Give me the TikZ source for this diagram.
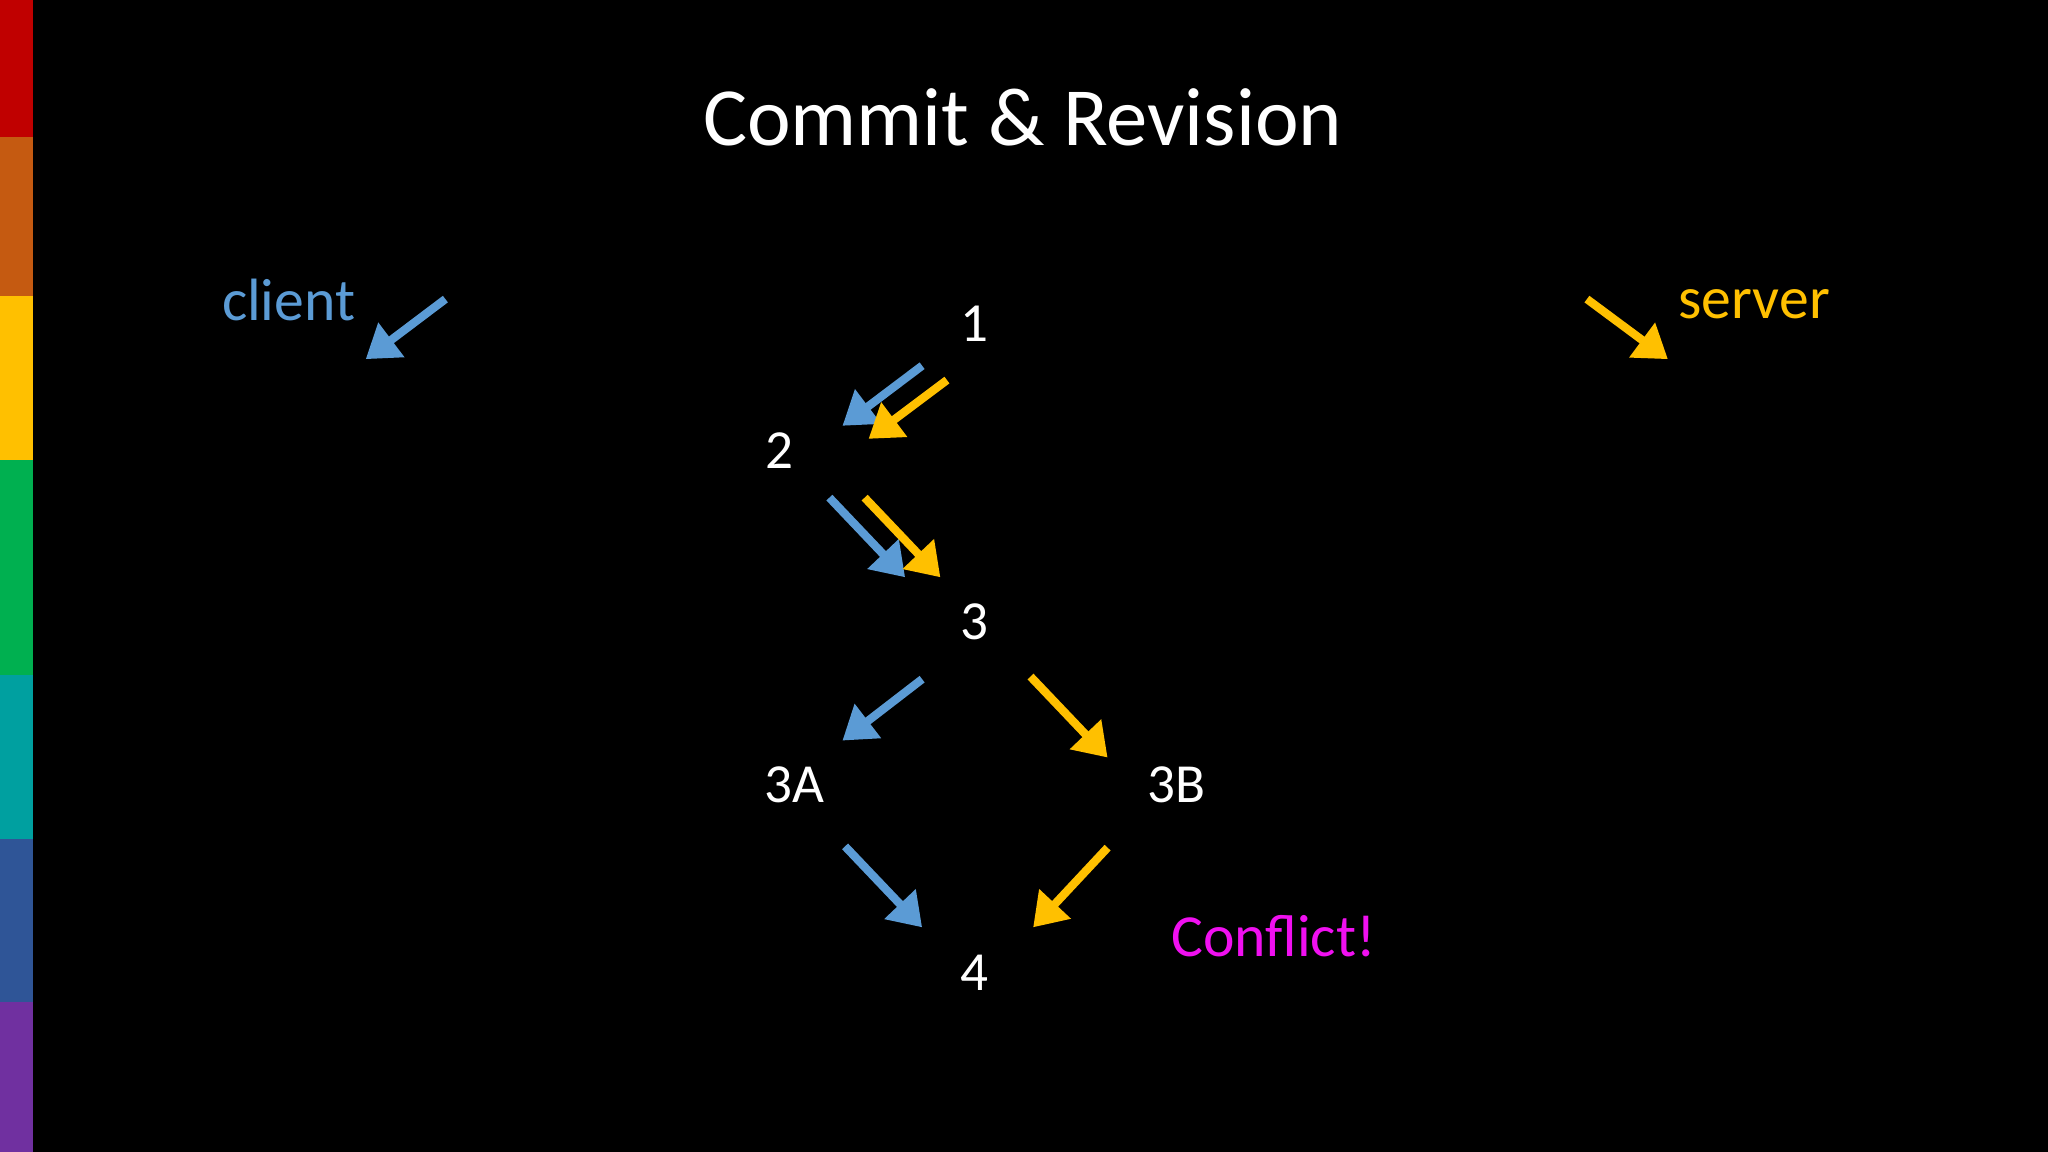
\documentclass[tikz,border=0pt]{standalone}
\usepackage{fontspec}
\setmainfont{Carlito}
\usetikzlibrary{arrows.meta}
\definecolor{cblue}{HTML}{5B9BD5}
\definecolor{cyel}{HTML}{FFC000}
\definecolor{cmag}{HTML}{F010F0}
\begin{document}
\begin{tikzpicture}[x=0.01cm,y=-0.01cm,
  arr/.style={line width=1.8pt,-{Triangle[length=7pt,width=9pt]}},
  lbl/.style={text=white,font=\fontsize{12}{14}\selectfont,inner sep=0pt}]
\fill[black] (0,0) rectangle (1568,882);
\useasboundingbox (0,0) rectangle (1568,882);
\fill[fill={rgb,255:red,192;green,0;blue,0}] (0,0) rectangle (25,105);
\fill[fill={rgb,255:red,197;green,90;blue,17}] (0,105) rectangle (25,227);
\fill[fill={rgb,255:red,255;green,192;blue,0}] (0,227) rectangle (25,352);
\fill[fill={rgb,255:red,0;green,176;blue,80}] (0,352) rectangle (25,517);
\fill[fill={rgb,255:red,0;green,160;blue,160}] (0,517) rectangle (25,642);
\fill[fill={rgb,255:red,47;green,85;blue,151}] (0,642) rectangle (25,767);
\fill[fill={rgb,255:red,112;green,48;blue,160}] (0,767) rectangle (25,882);
\node[text=white,font=\fontsize{18}{21}\selectfont] (title) at (783,90) {Commit \& Revision};
\node[text=cblue,font=\fontsize{13}{15}\selectfont] (client) at (221,230) {client};
\node[text=cyel,font=\fontsize{13}{15}\selectfont] (server) at (1343,233) {server};
\node[text=cmag,font=\fontsize{13}{15}\selectfont] (conf) at (975,717) {Conflict!};
\node[lbl] (n1) at (746,248) {1};
\node[lbl] (n2) at (597,345) {2};
\node[lbl] (n3) at (746,476) {3};
\node[lbl] (n3A) at (608,601) {3A};
\node[lbl] (n3B) at (901,601) {3B};
\node[lbl] (n4) at (746,745) {4};
\coordinate (ca) at (341,229); \coordinate (cb) at (280,275);
\coordinate (sa) at (1215,229); \coordinate (sb) at (1277,275);
\coordinate (a1) at (706,280); \coordinate (b1) at (645,326);
\coordinate (a2) at (725,291); \coordinate (b2) at (665,336);
\coordinate (a3) at (635,381); \coordinate (b3) at (693,442);
\coordinate (a4) at (662,381); \coordinate (b4) at (720,442);
\coordinate (a5) at (706,520); \coordinate (b5) at (645,567);
\coordinate (a6) at (789,518); \coordinate (b6) at (848,580);
\coordinate (a7) at (647,648); \coordinate (b7) at (706,710);
\coordinate (a8) at (848,649); \coordinate (b8) at (791,710);
\draw[arr,cblue] (ca) -- (cb);
\draw[arr,cyel] (sa) -- (sb);
\draw[arr,cblue] (a1) -- (b1);
\draw[arr,cyel] (a2) -- (b2);
\draw[arr,cblue] (a3) -- (b3);
\draw[arr,cyel] (a4) -- (b4);
\draw[arr,cblue] (a5) -- (b5);
\draw[arr,cyel] (a6) -- (b6);
\draw[arr,cblue] (a7) -- (b7);
\draw[arr,cyel] (a8) -- (b8);
\end{tikzpicture}
\end{document}
